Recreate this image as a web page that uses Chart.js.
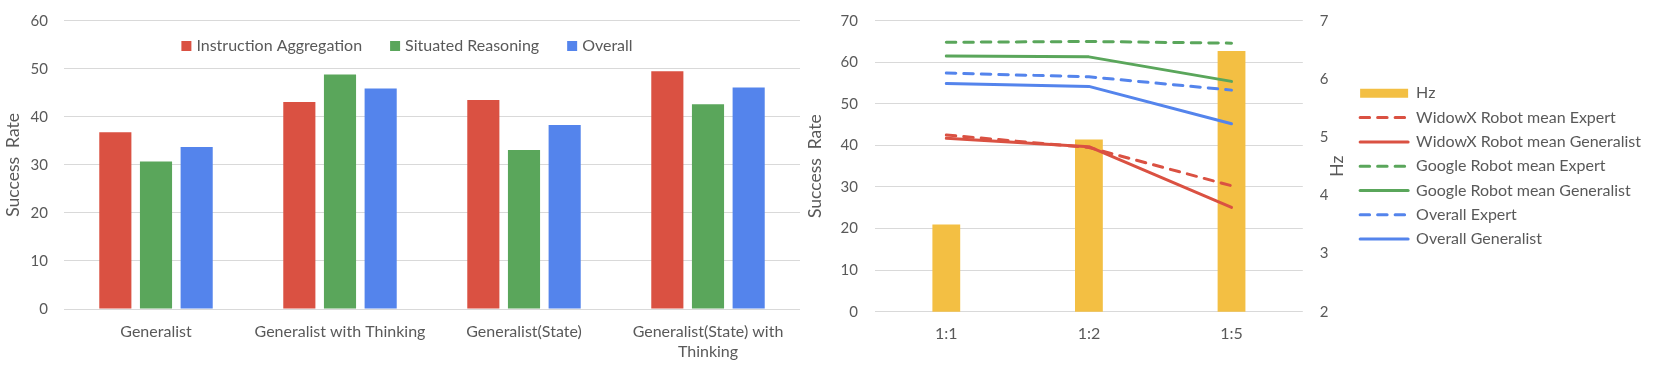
<!DOCTYPE html>
<html lang="en">
<head>
<meta charset="UTF-8">
<title>Success Rate charts</title>
<script src="https://cdn.jsdelivr.net/npm/chart.js"></script>
<style>
  html, body { margin: 0; padding: 0; background: #fff; }
  body { width: 1661px; height: 366px; position: relative; overflow: hidden; }
  canvas { position: absolute; top: 0; }
  #leftChart { left: 0; }
  #rightChart { left: 800px; }
</style>
</head>
<body>
<canvas id="leftChart" width="810" height="366"></canvas>
<canvas id="rightChart" width="861" height="366"></canvas>
<script>
// left chart: success rate per method
const methods = ['Generalist', 'Generalist with Thinking', 'Generalist(State)', ['Generalist(State) with', 'Thinking']];
const instructionAggregation = [36.8, 43.1, 43.5, 49.5];
const situatedReasoning = [30.7, 48.8, 33.1, 42.6];
const overall = [33.7, 45.9, 38.3, 46.1];

// right chart: success rate and Hz per ratio
const ratios = ['1:1', '1:2', '1:5'];
const hz = [3.5, 4.96, 6.48];
const widowxExpert = [42.5, 39.5, 30.3];
const widowxGeneralist = [41.7, 39.7, 25.1];
const googleExpert = [64.8, 65.0, 64.6];
const googleGeneralist = [61.5, 61.3, 55.4];
const overallExpert = [57.4, 56.5, 53.3];
const overallGeneralist = [54.9, 54.2, 45.2];

const RED = '#da5142';
const GREEN = '#5aa65b';
const BLUE = '#5484ec';
const YELLOW = '#f3bf43';
const TEXT = '#595959';
const GRID = '#d9d9d9';
const DASH = [9.5, 8];

Chart.defaults.font.family = 'Lato';
Chart.defaults.color = TEXT;

// legend drawn inside the plot area, like the original
const topLegend = {
    id: 'topLegend',
    afterDraw(chart) {
        const ctx = chart.ctx;
        const items = chart.data.datasets;
        ctx.save();
        ctx.font = '16px Lato';
        ctx.textBaseline = 'middle';
        const box = 10, gap = 5, spacing = 28;
        const widths = items.map(d => ctx.measureText(d.label).width);
        const total = widths.reduce((s, w) => s + box + gap + w, 0) + spacing * (items.length - 1);
        let x = 407 - total / 2;
        const y = 46;
        items.forEach((d, i) => {
            ctx.fillStyle = d.backgroundColor;
            ctx.fillRect(x, y - box / 2, box, box);
            x += box + gap;
            ctx.fillStyle = TEXT;
            ctx.fillText(d.label, x, y);
            x += widths[i] + spacing;
        });
        ctx.restore();
    }
};

// right axis title reads bottom to top, as in the original
const hzTitle = {
    id: 'hzTitle',
    afterDraw(chart) {
        const s = chart.scales.y1;
        const ctx = chart.ctx;
        ctx.save();
        ctx.translate(s.right - 14, (chart.chartArea.top + chart.chartArea.bottom) / 2);
        ctx.rotate(-Math.PI / 2);
        ctx.font = '17.5px Lato';
        ctx.fillStyle = TEXT;
        ctx.textAlign = 'center';
        ctx.textBaseline = 'middle';
        ctx.fillText('Hz', 0, 0);
        ctx.restore();
    }
};

// fixed axis sizes so the plot area sits where the original's does
const fixWidth = (w) => (scale) => {
    scale.width = w;
    scale.paddingTop = 0;
    scale.paddingBottom = 0;
};

new Chart(document.getElementById('leftChart'), {
    type: 'bar',
    data: {
        labels: methods,
        datasets: [
            { label: 'Instruction Aggregation', data: instructionAggregation, backgroundColor: RED },
            { label: 'Situated Reasoning', data: situatedReasoning, backgroundColor: GREEN },
            { label: 'Overall', data: overall, backgroundColor: BLUE }
        ]
    },
    options: {
        responsive: false,
        animation: false,
        layout: { padding: { top: 20.7, right: 10, bottom: 0, left: 0 } },
        datasets: { bar: { categoryPercentage: 0.663, barPercentage: 0.79 } },
        plugins: { legend: { display: false }, tooltip: { enabled: false } },
        scales: {
            x: {
                grid: { display: false, drawTicks: false },
                border: { display: false },
                ticks: { font: { size: 16, lineHeight: 1.25 }, padding: 13, maxRotation: 0, autoSkip: false },
                afterFit: (scale) => { scale.height = 57; }
            },
            y: {
                min: 0,
                max: 60,
                ticks: { stepSize: 10, font: { size: 15 }, padding: 16 },
                grid: { color: GRID, drawTicks: false },
                border: { display: false },
                title: { display: true, text: 'Success  Rate', font: { size: 17.5 }, padding: { top: 2.5, bottom: 8 } },
                afterFit: fixWidth(64)
            }
        }
    },
    plugins: [topLegend]
});

const lineStyle = { type: 'line', borderWidth: 3, pointRadius: 0, tension: 0, borderCapStyle: 'round', borderJoinStyle: 'round', order: 0 };

new Chart(document.getElementById('rightChart'), {
    type: 'bar',
    data: {
        labels: ratios,
        datasets: [
            { type: 'bar', label: 'Hz', data: hz, yAxisID: 'y1', backgroundColor: YELLOW, order: 1, categoryPercentage: 0.5, barPercentage: 0.39 },
            { ...lineStyle, label: 'WidowX Robot mean Expert', data: widowxExpert, borderColor: RED, backgroundColor: RED, borderDash: DASH },
            { ...lineStyle, label: 'WidowX Robot mean Generalist', data: widowxGeneralist, borderColor: RED, backgroundColor: RED },
            { ...lineStyle, label: 'Google Robot mean Expert', data: googleExpert, borderColor: GREEN, backgroundColor: GREEN, borderDash: DASH },
            { ...lineStyle, label: 'Google Robot mean Generalist', data: googleGeneralist, borderColor: GREEN, backgroundColor: GREEN },
            { ...lineStyle, label: 'Overall Expert', data: overallExpert, borderColor: BLUE, backgroundColor: BLUE, borderDash: DASH },
            { ...lineStyle, label: 'Overall Generalist', data: overallGeneralist, borderColor: BLUE, backgroundColor: BLUE }
        ]
    },
    options: {
        responsive: false,
        animation: false,
        layout: { padding: { top: 20.7, right: 10, bottom: 0, left: 0 } },
        plugins: {
            tooltip: { enabled: false },
            legend: {
                position: 'right',
                fullSize: false,
                maxWidth: 320,
                labels: {
                    usePointStyle: true,
                    pointStyleWidth: 48,
                    boxHeight: 9,
                    padding: 8.3,
                    font: { size: 16 },
                    sort: (a, b) => a.datasetIndex - b.datasetIndex,
                    generateLabels: (chart) => {
                        const items = Chart.defaults.plugins.legend.labels.generateLabels(chart);
                        items.forEach(item => {
                            const ds = chart.data.datasets[item.datasetIndex];
                            if (ds.type === 'bar') {
                                item.pointStyle = 'rect';
                                item.fillStyle = ds.backgroundColor;
                                item.lineWidth = 0;
                            } else {
                                item.pointStyle = 'line';
                                item.strokeStyle = ds.borderColor;
                                item.lineWidth = 3;
                                item.lineDash = ds.borderDash || [];
                                item.lineCap = 'round';
                            }
                        });
                        return items;
                    }
                }
            }
        },
        scales: {
            x: {
                offset: true,
                grid: { display: false, drawTicks: false },
                border: { display: false },
                ticks: { font: { size: 16 }, padding: 13 },
                afterFit: (scale) => { scale.height = 54.3; }
            },
            y: {
                position: 'left',
                min: 0,
                max: 70,
                ticks: { stepSize: 10, font: { size: 15 }, padding: 17 },
                grid: { color: GRID, drawTicks: false },
                border: { display: false },
                title: { display: true, text: 'Success  Rate', font: { size: 17.5 }, padding: { top: 4.5, bottom: 16 } },
                afterFit: fixWidth(75)
            },
            y1: {
                position: 'right',
                min: 2,
                max: 7,
                ticks: { stepSize: 1, font: { size: 15 }, padding: 17 },
                grid: { display: false, drawTicks: false },
                border: { display: false },
                afterFit: fixWidth(49)
            }
        }
    },
    plugins: [hzTitle]
});
</script>
</body>
</html>
